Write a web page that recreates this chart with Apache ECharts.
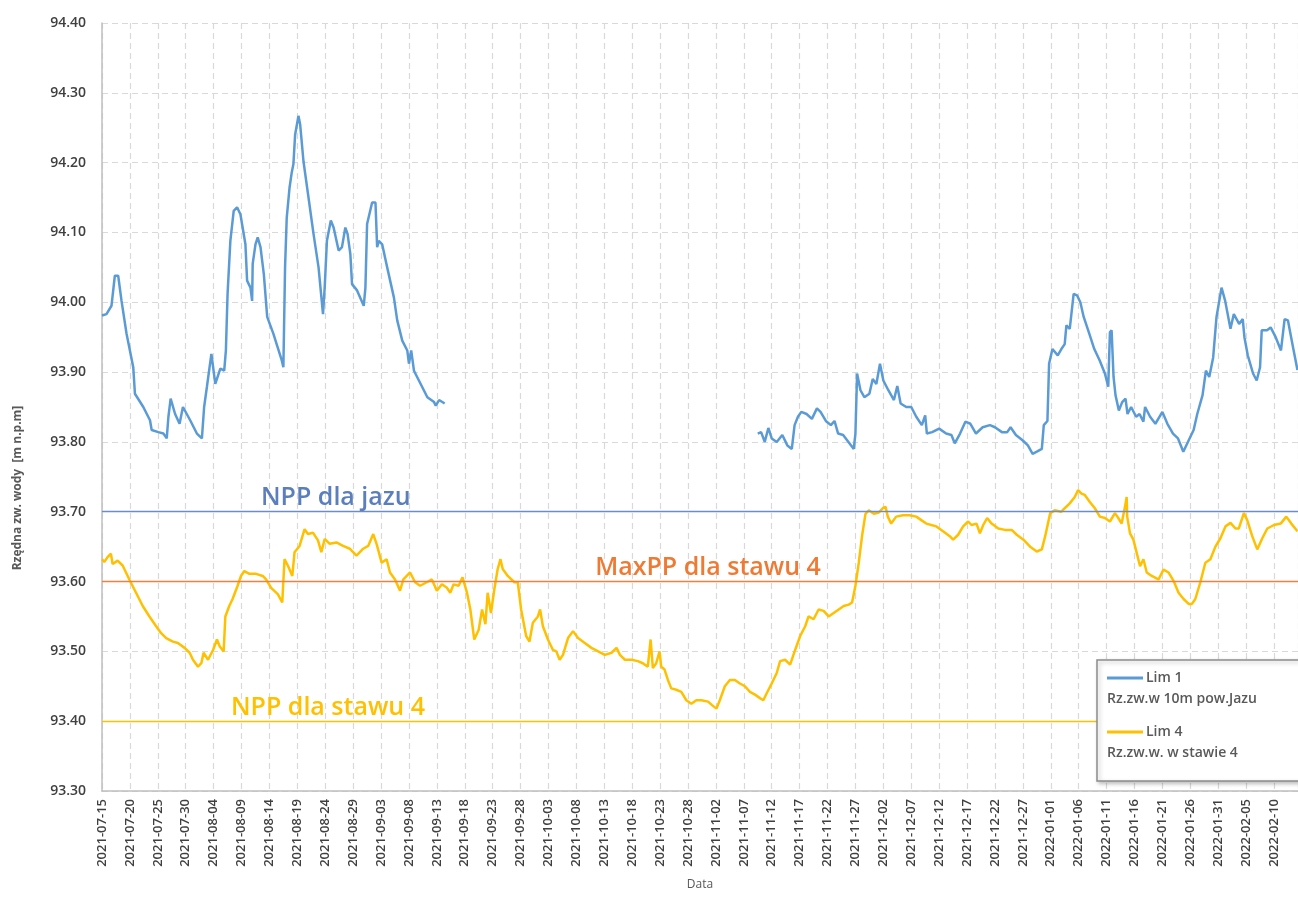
<!DOCTYPE html>
<html>
<head>
    <meta charset='utf-8'>
    <script src="https://cdn.jsdelivr.net/npm/echarts@6/dist/echarts.min.js"></script>
</head>
<body>
<style>
    html, body, #main {
        width: 100%;
        height: 100%;
        margin: 0;
        padding: 0;
        background: #fff;
    }
</style>
<div id="main"></div>
<script>
    // x = days since 2021-07-15, y = water level [m n.p.m]
    var startDate = Date.UTC(2021, 6, 15);
    var lastDay = 214.3;

    // Lim 1, first stretch (before the gap)
    var lim1PartA = [
        [0, 93.981], [0.8, 93.983], [1.7, 93.995], [2.3, 94.038], [2.9, 94.038], [3.5, 94.002],
        [4.4, 93.955], [5.6, 93.907], [5.9, 93.869], [7.4, 93.85], [8.6, 93.831], [8.9, 93.817],
        [10.1, 93.814], [11.0, 93.812], [11.6, 93.805], [11.9, 93.836], [12.3, 93.862], [13.1, 93.84],
        [13.9, 93.826], [14.5, 93.85], [15.8, 93.831], [17.0, 93.812], [17.9, 93.805], [18.3, 93.85],
        [18.8, 93.879], [19.6, 93.926], [20.3, 93.883], [21.2, 93.905], [21.9, 93.902], [22.2, 93.931],
        [22.5, 94.012], [23.0, 94.088], [23.6, 94.131], [24.2, 94.136], [24.8, 94.126], [25.7, 94.083],
        [26.0, 94.031], [26.6, 94.021], [26.9, 94.002], [27.0, 94.055], [27.5, 94.083], [27.9, 94.093],
        [28.4, 94.079], [29.0, 94.04], [29.6, 93.979], [30.7, 93.955], [32.2, 93.917], [32.5, 93.907],
        [32.8, 94.05], [33.1, 94.121], [33.6, 94.164], [34.0, 94.186], [34.3, 94.198], [34.6, 94.24],
        [35.2, 94.267], [35.5, 94.255], [36.1, 94.202], [37.0, 94.15], [37.9, 94.098], [38.8, 94.05],
        [39.6, 93.983], [39.9, 94.021], [40.3, 94.088], [41.0, 94.117], [41.5, 94.107], [42.4, 94.074],
        [43.0, 94.079], [43.6, 94.107], [44.0, 94.098], [44.5, 94.069], [44.8, 94.026], [45.7, 94.017],
        [46.9, 93.995], [47.2, 94.021], [47.5, 94.112], [48.4, 94.143], [49.0, 94.143], [49.3, 94.079],
        [49.6, 94.088], [50.2, 94.083], [51.1, 94.05], [52.3, 94.007], [52.9, 93.974], [53.8, 93.945],
        [54.7, 93.931], [55.0, 93.912], [55.4, 93.931], [55.9, 93.902], [57.1, 93.883], [58.3, 93.864],
        [59.5, 93.857], [59.8, 93.852], [60.4, 93.86], [61.4, 93.855]
    ];

    // Lim 1, second stretch (after the gap)
    var lim1PartB = [
        [117.5, 93.812], [118.1, 93.814], [118.75, 93.80], [119.4, 93.82], [120.0, 93.805], [120.9, 93.80],
        [121.9, 93.81], [122.8, 93.795], [123.6, 93.79], [124.1, 93.824], [124.7, 93.836], [125.3, 93.843],
        [126.25, 93.84], [127.2, 93.833], [128.1, 93.848], [128.75, 93.843], [129.7, 93.83], [130.6, 93.824],
        [131.25, 93.83], [131.9, 93.812], [132.8, 93.81], [133.75, 93.80], [134.7, 93.79], [135.0, 93.812],
        [135.3, 93.898], [135.9, 93.874], [136.6, 93.864], [137.5, 93.869], [138.1, 93.89], [138.75, 93.883],
        [139.4, 93.912], [140.0, 93.888], [140.9, 93.874], [141.9, 93.86], [142.5, 93.88], [143.1, 93.855],
        [144.1, 93.85], [145.0, 93.85], [145.9, 93.836], [146.9, 93.824], [147.5, 93.838], [147.8, 93.812],
        [148.75, 93.814], [150.0, 93.819], [151.25, 93.812], [152.2, 93.81], [152.8, 93.798], [153.75, 93.812],
        [154.7, 93.829], [155.6, 93.826], [156.6, 93.812], [157.8, 93.821], [159.1, 93.824], [160.0, 93.821],
        [161.25, 93.814], [162.2, 93.814], [162.8, 93.821], [163.75, 93.81], [165.0, 93.802], [165.9, 93.795],
        [166.75, 93.783], [167.5, 93.786], [168.4, 93.79], [168.75, 93.824], [169.4, 93.83], [169.7, 93.912],
        [170.3, 93.933], [171.25, 93.924], [171.9, 93.933], [172.5, 93.94], [172.8, 93.967], [173.4, 93.962],
        [174.1, 94.012], [174.7, 94.01], [175.3, 94.00], [175.9, 93.979], [176.9, 93.955], [177.8, 93.933],
        [178.75, 93.917], [179.7, 93.898], [180.3, 93.879], [180.6, 93.957], [180.9, 93.96], [181.25, 93.893],
        [181.6, 93.867], [182.2, 93.845], [182.8, 93.857], [183.4, 93.862], [183.75, 93.84], [184.4, 93.85],
        [185.3, 93.836], [185.9, 93.84], [186.6, 93.829], [186.9, 93.85], [187.8, 93.836], [188.75, 93.826],
        [190.0, 93.843], [190.9, 93.826], [191.9, 93.812], [192.8, 93.805], [193.75, 93.786], [194.7, 93.802],
        [195.6, 93.817], [196.25, 93.84], [197.2, 93.867], [197.8, 93.902], [198.4, 93.893], [199.1, 93.921],
        [199.7, 93.979], [200.6, 94.021], [201.25, 94.002], [202.2, 93.962], [202.8, 93.983], [203.75, 93.969],
        [204.4, 93.976], [204.7, 93.95], [205.3, 93.924], [206.25, 93.898], [206.9, 93.888], [207.5, 93.907],
        [207.8, 93.96], [208.75, 93.96], [209.4, 93.964], [210.3, 93.95], [211.25, 93.931], [211.9, 93.976],
        [212.5, 93.974], [213.4, 93.936], [214.2, 93.903]
    ];

    // Lim 4
    var lim4Points = [
        [0, 93.632], [0.4, 93.628], [1.0, 93.635], [1.6, 93.64], [1.9, 93.625], [2.8, 93.63], [3.7, 93.623],
        [4.9, 93.603], [6.1, 93.584], [7.3, 93.565], [8.5, 93.55], [9.7, 93.536], [10.6, 93.526], [11.5, 93.519],
        [12.7, 93.514], [13.6, 93.512], [13.9, 93.514], [14.8, 93.505], [15.7, 93.498], [16.3, 93.488],
        [17.2, 93.478], [17.8, 93.483], [18.2, 93.498], [19.0, 93.488], [19.9, 93.502], [20.6, 93.517],
        [21.1, 93.507], [21.8, 93.5], [22.1, 93.55], [22.8, 93.565], [23.4, 93.575], [24.3, 93.594],
        [24.9, 93.608], [25.5, 93.615], [26.4, 93.611], [27.6, 93.611], [28.8, 93.608], [29.4, 93.603],
        [30.3, 93.591], [31.5, 93.582], [32.3, 93.57], [32.7, 93.632], [33.3, 93.623], [34.1, 93.608],
        [34.5, 93.642], [35.4, 93.651], [36.3, 93.675], [36.9, 93.668], [37.8, 93.67], [38.7, 93.659],
        [39.3, 93.642], [39.9, 93.661], [40.8, 93.654], [42.0, 93.656], [43.2, 93.651], [44.4, 93.647],
        [45.6, 93.637], [46.8, 93.647], [47.7, 93.651], [48.6, 93.668], [49.2, 93.654], [50.1, 93.627],
        [51.0, 93.632], [51.6, 93.613], [52.5, 93.603], [53.4, 93.587], [54.0, 93.603], [55.2, 93.613],
        [56.1, 93.599], [57.0, 93.594], [58.2, 93.599], [59.1, 93.603], [60.0, 93.587], [60.9, 93.596],
        [61.8, 93.591], [62.4, 93.584], [63.0, 93.596], [63.9, 93.594], [64.6, 93.606], [65.4, 93.584],
        [66.0, 93.56], [66.7, 93.517], [67.5, 93.531], [68.1, 93.56], [68.7, 93.539], [69.1, 93.584],
        [69.7, 93.555], [70.3, 93.589], [70.9, 93.618], [71.4, 93.632], [71.8, 93.618], [72.7, 93.608],
        [73.9, 93.599], [74.5, 93.599], [75.1, 93.56], [76.0, 93.522], [76.6, 93.514], [77.2, 93.541],
        [78.1, 93.55], [78.5, 93.56], [79.0, 93.536], [79.9, 93.517], [80.8, 93.502], [81.4, 93.5],
        [82.0, 93.488], [82.6, 93.495], [83.5, 93.519], [84.4, 93.529], [85.3, 93.519], [86.5, 93.512],
        [87.7, 93.505], [88.9, 93.5], [90.1, 93.495], [91.3, 93.498], [92.2, 93.505], [92.8, 93.495],
        [93.7, 93.488], [94.9, 93.488], [96.0, 93.486], [96.9, 93.483], [97.8, 93.478], [98.3, 93.517],
        [98.7, 93.476], [99.3, 93.483], [99.9, 93.5], [100.2, 93.478], [100.8, 93.474], [101.4, 93.459],
        [102.0, 93.447], [102.9, 93.445], [103.8, 93.442], [104.7, 93.43], [105.6, 93.425], [106.5, 93.43],
        [107.4, 93.43], [108.6, 93.428], [109.3, 93.423], [110.1, 93.418], [110.7, 93.43], [111.6, 93.45],
        [112.5, 93.459], [113.4, 93.459], [114.3, 93.454], [115.2, 93.45], [116.1, 93.442], [117.0, 93.438],
        [117.9, 93.433], [118.5, 93.43], [119.1, 93.44], [120.0, 93.454], [120.9, 93.469], [121.5, 93.486],
        [122.4, 93.488], [123.3, 93.481], [124.2, 93.502], [125.1, 93.522], [126.0, 93.536], [126.6, 93.55],
        [127.5, 93.546], [128.4, 93.56], [129.3, 93.558], [130.2, 93.55], [131.1, 93.555], [132.0, 93.56],
        [132.9, 93.565], [133.8, 93.567], [134.4, 93.57], [135.0, 93.594], [135.6, 93.627], [136.2, 93.666],
        [136.8, 93.697], [137.4, 93.702], [138.3, 93.697], [139.2, 93.699], [139.9, 93.705], [140.4, 93.707],
        [140.8, 93.693], [141.4, 93.683], [142.3, 93.693], [143.5, 93.695], [144.7, 93.695], [145.9, 93.693],
        [146.8, 93.688], [147.7, 93.683], [148.6, 93.681], [149.5, 93.679], [150.7, 93.672], [151.9, 93.665],
        [152.5, 93.66], [153.4, 93.667], [154.3, 93.679], [155.2, 93.686], [155.8, 93.681], [156.7, 93.683],
        [157.3, 93.669], [157.9, 93.681], [158.6, 93.691], [159.4, 93.683], [160.6, 93.676], [161.8, 93.674],
        [163.0, 93.674], [163.9, 93.667], [165.1, 93.66], [166.3, 93.65], [167.5, 93.643], [168.4, 93.646],
        [169.0, 93.665], [169.9, 93.698], [170.7, 93.702], [171.9, 93.70], [172.5, 93.705], [173.4, 93.712],
        [174.3, 93.721], [174.9, 93.731], [175.5, 93.726], [176.1, 93.724], [177.0, 93.714], [177.9, 93.705],
        [178.8, 93.693], [179.7, 93.691], [180.6, 93.686], [181.5, 93.698], [182.1, 93.691], [182.7, 93.683],
        [183.3, 93.707], [183.6, 93.721], [183.7, 93.693], [184.2, 93.669], [184.8, 93.66], [185.4, 93.641],
        [186.0, 93.622], [186.6, 93.632], [187.2, 93.613], [188.1, 93.608], [189.3, 93.603], [190.2, 93.617],
        [191.1, 93.613], [192.0, 93.601], [192.9, 93.584], [193.8, 93.575], [194.7, 93.568], [195.3, 93.568],
        [195.9, 93.575], [196.8, 93.599], [197.7, 93.627], [198.6, 93.632], [199.5, 93.65], [200.4, 93.662],
        [201.3, 93.679], [202.2, 93.684], [203.1, 93.676], [203.7, 93.676], [204.6, 93.698], [205.2, 93.688],
        [206.1, 93.665], [207.0, 93.646], [207.9, 93.662], [208.8, 93.676], [210.0, 93.681], [211.2, 93.683],
        [212.2, 93.693], [213.1, 93.683], [214.2, 93.672]
    ];

    // reference levels
    var refLevels = [
        {name: 'NPP dla jazu', value: 93.70, color: '#6b8dc8', labelColor: '#5b7fbc', pos: 'insideStartTop', shift: 158},
        {name: 'MaxPP dla stawu 4', value: 93.60, color: '#f0803c', labelColor: '#ee7a33', pos: 'insideMiddleTop', shift: 16},
        {name: 'NPP dla stawu 4', value: 93.40, color: '#ffc000', labelColor: '#ffc000', pos: 'insideStartTop', shift: 128}
    ];

    var lim1Data = lim1PartA.concat([[89, '-']], lim1PartB);

    function dayLabel(v) {
        return new Date(startDate + Math.round(v) * 86400000).toISOString().slice(0, 10);
    }

    var chart = echarts.init(document.getElementById('main'));

    chart.setOption({
        animation: false,
        textStyle: {fontFamily: 'Open Sans'},
        grid: {left: 102, right: 0, top: 23, bottom: 106, containLabel: false},
        legend: {
            orient: 'vertical',
            left: 1097,
            top: 660,
            z: 10,
            padding: [11, 60, 21, 3],
            itemGap: 19,
            itemWidth: 1,
            itemHeight: 1,
            itemStyle: {opacity: 0},
            lineStyle: {opacity: 0},
            backgroundColor: '#fff',
            borderColor: '#8c8c8c',
            borderWidth: 1.5,
            shadowColor: 'rgba(0,0,0,0.25)',
            shadowBlur: 4,
            shadowOffsetX: 2,
            shadowOffsetY: 2,
            data: ['Lim 1', 'Lim 4'],
            formatter: function (name) {
                if (name === 'Lim 1') {
                    return '{l1|}{h|Lim 1}\n{d|Rz.zw.w 10m pow.Jazu}';
                }
                return '{l4|}{h|Lim 4}\n{d|Rz.zw.w. w stawie 4}';
            },
            textStyle: {
                color: '#595959',
                fontSize: 14,
                rich: {
                    l1: {width: 36, height: 3, lineHeight: 21, backgroundColor: '#5b9bd5', verticalAlign: 'middle'},
                    l4: {width: 36, height: 3, lineHeight: 21, backgroundColor: '#ffc000', verticalAlign: 'middle'},
                    h: {fontSize: 14, fontWeight: 600, color: '#595959', padding: [0, 0, 0, 3], lineHeight: 21},
                    d: {fontSize: 14, fontWeight: 600, color: '#595959', lineHeight: 21}
                }
            }
        },
        xAxis: {
            type: 'value',
            min: 0,
            max: lastDay,
            interval: 5,
            name: 'Data',
            nameLocation: 'middle',
            nameGap: 88,
            nameTextStyle: {color: '#595959', fontSize: 12},
            axisLine: {lineStyle: {color: '#bfbfbf', width: 1.5}},
            axisTick: {show: false},
            axisLabel: {
                rotate: 90,
                margin: 8,
                color: '#404040',
                fontSize: 13,
                fontWeight: 600,
                showMaxLabel: false,
                formatter: dayLabel
            },
            splitLine: {show: true, lineStyle: {color: '#d9d9d9', type: [6, 4], width: 1.2}}
        },
        yAxis: {
            type: 'value',
            min: 93.3,
            max: 94.4,
            interval: 0.1,
            name: 'Rzędna zw. wody  [m n.p.m]',
            nameLocation: 'middle',
            nameGap: 78,
            nameTextStyle: {color: '#595959', fontSize: 12, fontWeight: 'bold', padding: [0, 162, 0, 0]},
            axisLine: {show: true, lineStyle: {color: '#bfbfbf', width: 1.5}},
            axisTick: {show: false},
            axisLabel: {
                margin: 16,
                color: '#404040',
                fontSize: 14,
                fontWeight: 600,
                formatter: function (v) { return v.toFixed(2); }
            },
            splitLine: {show: true, lineStyle: {color: '#d9d9d9', type: [6, 4], width: 1.2}}
        },
        series: [{
            name: 'ref',
            type: 'line',
            data: [],
            silent: true,
            markLine: {
                silent: true,
                symbol: ['none', 'none'],
                data: refLevels.map(function (r) {
                    return {
                        yAxis: r.value,
                        lineStyle: {color: r.color, width: 1.4, type: 'solid'},
                        label: {
                            show: true,
                            position: r.pos,
                            formatter: r.name,
                            color: r.labelColor,
                            fontSize: 25,
                            fontWeight: 600,
                            distance: 1,
                            padding: [0, 0, 0, r.shift]
                        }
                    };
                })
            }
        }, {
            name: 'Lim 1',
            type: 'line',
            data: lim1Data,
            showSymbol: false,
            connectNulls: false,
            lineStyle: {color: '#5b9bd5', width: 2.5},
            itemStyle: {color: '#5b9bd5'}
        }, {
            name: 'Lim 4',
            type: 'line',
            data: lim4Points,
            showSymbol: false,
            lineStyle: {color: '#ffc000', width: 2.5},
            itemStyle: {color: '#ffc000'}
        }]
    });
</script>
</body>
</html>
